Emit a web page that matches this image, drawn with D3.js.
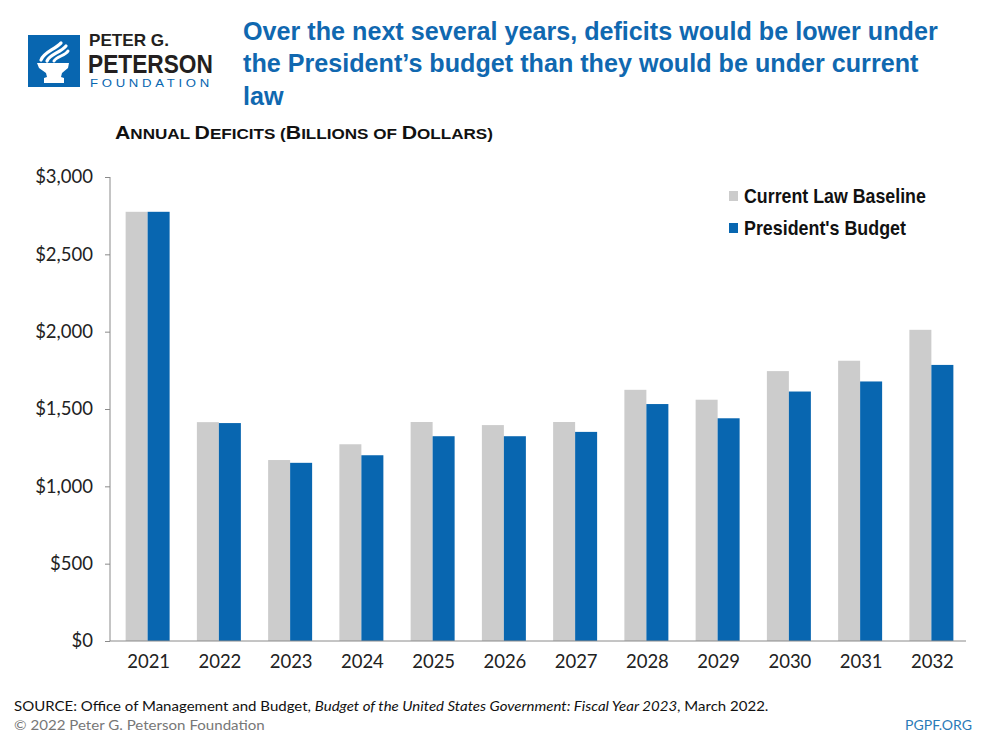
<!DOCTYPE html>
<html>
<head>
<meta charset="utf-8">
<script src="https://cdn.jsdelivr.net/npm/d3@7"></script>
<style>
  body { margin: 0; background: #fff; }
  svg { display: block; }
</style>
</head>
<body>
<svg id="chart" width="1000" height="750"></svg>
<script>
// ---- data ----
const years = ["2021","2022","2023","2024","2025","2026","2027","2028","2029","2030","2031","2032"];
const currentLaw = [2775, 1415, 1170, 1272, 1416, 1396, 1416, 1624, 1560, 1745, 1812, 2012];
const presidentsBudget = [2775, 1409, 1152, 1201, 1324, 1324, 1352, 1532, 1440, 1613, 1678, 1785];
const seriesNames = ["Current Law Baseline", "President's Budget"];
const yTicks = [0, 500, 1000, 1500, 2000, 2500, 3000];
const titleLines = [
  "Over the next several years, deficits would be lower under",
  "the President\u2019s budget than they would be under current",
  "law"
];

const BLUE = "#0866b0";
const GRAY = "#cccccc";
const SANS = "'Liberation Sans', Arial, sans-serif";
const HUMANIST = "Lato, 'Open Sans', sans-serif";

const svg = d3.select("#chart");

// place text at (x,y) and squeeze horizontally to a target width (mimics a condensed face)
function squeezed(parent, x, y, w, attrs, build) {
  const t = parent.append("text").attr("x", 0).attr("y", 0);
  Object.entries(attrs).forEach(([k, v]) => t.attr(k, v));
  build(t);
  const cur = t.node().getComputedTextLength();
  const s = w && cur > 0 ? w / cur : 1;
  t.attr("transform", `translate(${x},${y}) scale(${s.toFixed(4)},1)`);
  return { el: t, s };
}

// ---- logo ----
const logo = svg.append("g").attr("transform", "translate(28,35)");
logo.append("rect").attr("width", 52).attr("height", 52).attr("fill", BLUE);
logo.append("path").attr("fill", "#fff")
  .attr("d", "M9,28 L41,28 L40,33 L34,38 L33,42 L36,43 L36,48 L16,48 L16,43 L19,42 L18,38 L11,33 Z");
logo.append("path").attr("fill", "none").attr("stroke", "#fff").attr("stroke-width", 3.2).attr("stroke-linecap", "round")
  .attr("d", "M13,25 C16,17 26,15 33,8");
logo.append("path").attr("fill", "none").attr("stroke", "#fff").attr("stroke-width", 3.2).attr("stroke-linecap", "round")
  .attr("d", "M19,26 C22,19 32,18 38,11");
logo.append("path").attr("fill", "none").attr("stroke", "#fff").attr("stroke-width", 3).attr("stroke-linecap", "round")
  .attr("d", "M26,26 C29,21 37,21 40,16");

squeezed(svg, 89, 46, 80, { "font-family": SANS, "font-weight": "bold", "font-size": 16, fill: "#231f20" },
  t => t.text("PETER G."));
squeezed(svg, 88, 72.5, 125, { "font-family": SANS, "font-weight": "bold", "font-size": 25.5, fill: "#231f20" },
  t => t.text("PETERSON"));
squeezed(svg, 90, 86.5, 123, { "font-family": SANS, "font-size": 11, "letter-spacing": 3.1, fill: BLUE },
  t => t.text("FOUNDATION"));

// ---- title ----
const TITLE_FS = 26.5;
const first = squeezed(svg, 243, 40, 695,
  { "font-family": SANS, "font-weight": "bold", "font-size": TITLE_FS, fill: "#1068b0" }, t => t.text(titleLines[0]));
titleLines.slice(1).forEach((line, i) => {
  svg.append("text").attr("font-family", SANS).attr("font-weight", "bold").attr("font-size", TITLE_FS)
    .attr("fill", "#1068b0").attr("transform", `translate(243,${40 + (i + 1) * 32.3}) scale(${first.s.toFixed(4)},1)`)
    .text(line);
});

// ---- subtitle (small caps) ----
const subParts = [["A",1],["NNUAL ",0],["D",1],["EFICITS (",0],["B",1],["ILLIONS OF ",0],["D",1],["OLLARS)",0]];
squeezed(svg, 115, 138.7, 378, { "font-family": SANS, "font-weight": "bold", fill: "#111" }, t => {
  subParts.forEach(([s, big]) => t.append("tspan").attr("font-size", big ? 18.7 : 15).text(s));
});

// ---- chart ----
const margin = { left: 111, right: 966, top: 177, bottom: 641 };
const x0 = d3.scaleBand().domain(years).range([margin.left, margin.right]).padding(0);
const x1 = d3.scaleBand().domain([0, 1]).range([-22, 22]).padding(0);
const y = d3.scaleLinear().domain([0, 3000]).range([margin.bottom, margin.top]);

const groups = svg.append("g").selectAll("g").data(years).join("g")
  .attr("transform", d => `translate(${x0(d) + x0.bandwidth() / 2 + 1},0)`);
groups.append("rect")
  .attr("x", x1(0)).attr("width", x1.bandwidth())
  .attr("y", (d, i) => y(currentLaw[i])).attr("height", (d, i) => y(0) - y(currentLaw[i]))
  .attr("fill", GRAY);
groups.append("rect")
  .attr("x", x1(1)).attr("width", x1.bandwidth())
  .attr("y", (d, i) => y(presidentsBudget[i])).attr("height", (d, i) => y(0) - y(presidentsBudget[i]))
  .attr("fill", BLUE);

// y axis
const yAxis = svg.append("g").attr("transform", `translate(${margin.left - 1},0)`)
  .call(d3.axisLeft(y).tickValues(yTicks).tickSize(5).tickPadding(12)
    .tickFormat(d => "$" + d3.format(",")(d)));
yAxis.select(".domain").attr("stroke", "#8a8a8a").attr("d", `M0,${margin.top}V${margin.bottom}`);
yAxis.selectAll(".tick line").attr("stroke", "#8a8a8a");
yAxis.selectAll(".tick text").attr("font-family", HUMANIST)
  .attr("font-size", 18.5).attr("fill", "#222");

// x axis
const xAxis = svg.append("g").attr("transform", `translate(0,${margin.bottom})`)
  .call(d3.axisBottom(x0).tickSize(0).tickPadding(14));
xAxis.select(".domain").attr("stroke", "#8a8a8a").attr("d", `M${margin.left - 1},0H${margin.right}`);
xAxis.selectAll(".tick text").attr("font-family", HUMANIST)
  .attr("font-size", 18.5).attr("fill", "#222").attr("dx", 2);

// legend
seriesNames.forEach((name, i) => {
  const ly = 196 + i * 32;
  svg.append("rect").attr("x", 729).attr("y", ly - 5).attr("width", 9).attr("height", 10)
    .attr("fill", i === 0 ? GRAY : BLUE);
  squeezed(svg, 744, ly + 7, i === 0 ? 182 : 162,
    { "font-family": SANS, "font-weight": "bold", "font-size": 19.5, fill: "#111" }, t => t.text(name));
});

// ---- footer ----
squeezed(svg, 14, 711, 755, { "font-family": HUMANIST, "font-size": 13, fill: "#111" }, t => {
  t.append("tspan").text("SOURCE: Office of Management and Budget, ");
  t.append("tspan").attr("font-style", "italic").text("Budget of the United States Government: Fiscal Year 2023");
  t.append("tspan").text(", March 2022.");
});
squeezed(svg, 14, 729.5, 251, { "font-family": HUMANIST, "font-size": 13, fill: "#777" },
  t => t.text("\u00a9 2022 Peter G. Peterson Foundation"));
squeezed(svg, 905, 730, 67, { "font-family": HUMANIST, "font-size": 14, fill: "#2a7ab8" },
  t => t.text("PGPF.ORG"));
</script>
</body>
</html>
